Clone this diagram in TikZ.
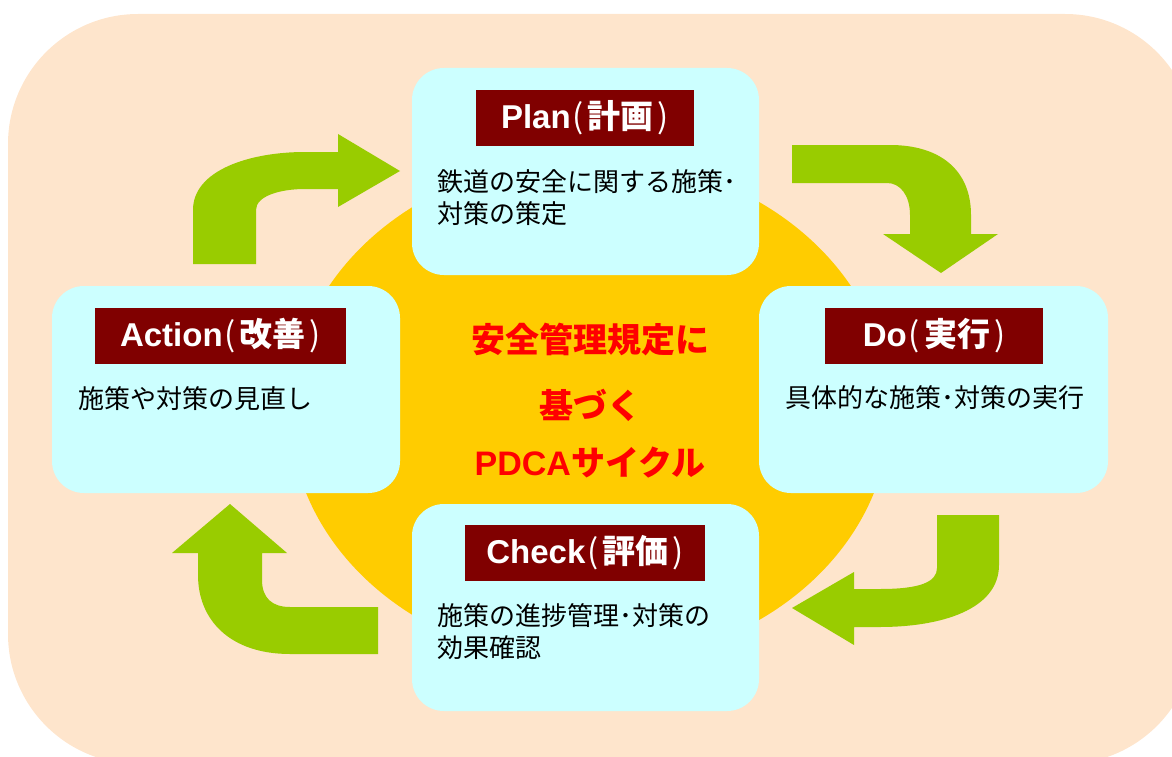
\documentclass[tikz,border=0pt]{standalone}
\usepackage{fontspec}
\setmainfont{Liberation Sans}
\newfontfamily\jp{Noto Sans CJK JP}
\definecolor{bgpeach}{HTML}{FEE5CC}
\definecolor{goldfill}{HTML}{FFCC00}
\definecolor{boxcyan}{HTML}{CCFFFF}
\definecolor{titlered}{HTML}{800000}
\definecolor{arrowgreen}{HTML}{99CC00}
\newcommand{\lpar}{\hspace{2pt}{\jp\mdseries (}\hspace{4pt}}
\newcommand{\rpar}{\hspace{4pt}{\jp\mdseries )}}
\tikzset{
  stagebox/.style={fill=boxcyan, rounded corners=32pt, minimum height=207pt, inner sep=0pt},
  titlebox/.style={fill=titlered, text=white, minimum height=56pt, inner sep=0pt,
    font=\fontsize{33}{36}\selectfont},
  bodytext/.style={anchor=north west, inner sep=0pt, align=left, text=black,
    font=\jp\fontsize{26}{32}\selectfont},
  centertext/.style={text=red, inner sep=0pt, font=\jp\bfseries\fontsize{34}{38}\selectfont},
  bigarrow/.style={fill=arrowgreen}
}
\begin{document}
\begin{tikzpicture}[x=1pt,y=-1pt]
\useasboundingbox (0,0) rectangle (1172,757);
\clip (0,0) rectangle (1172,757);
% background
\fill[bgpeach, rounded corners=130pt] (8,14) rectangle (1195,764);
% central ellipse
\fill[goldfill] (590,411) ellipse [x radius=300pt, y radius=253pt];
% arrows
\fill[bigarrow] (193,264) -- (193,210) .. controls (193,170) and (250,152) .. (305,152)
  -- (338,152) -- (338,134) -- (400,171) -- (338,207) -- (338,189) -- (305,189)
  .. controls (280,189) and (256,196) .. (256,210) -- (256,264) -- cycle;
\fill[bigarrow] (792,145) -- (890,145) .. controls (940,145) and (971,170) .. (971,215)
  -- (971,234) -- (998,234) -- (941,273) -- (883,234) -- (910,234) -- (910,215)
  .. controls (910,195) and (900,183) .. (887,183) -- (792,183) -- cycle;
\fill[bigarrow] (937,515) -- (999,515) -- (999,565) .. controls (999,610) and (940,627) .. (880,627)
  -- (854,627) -- (854,645) -- (792,608) -- (854,572) -- (854,589) -- (880,589)
  .. controls (920,589) and (937,582) .. (937,568) -- cycle;
\fill[bigarrow] (378,607) -- (378,654) -- (290,654) .. controls (230,654) and (198,620) .. (198,575)
  -- (198,553) -- (172,553) -- (230,504) -- (287,553) -- (262,553) -- (262,580)
  .. controls (262,598) and (272,607) .. (290,607) -- cycle;
% stage boxes
\node[stagebox, minimum width=347pt] (plan) at (585.5,171.5) {};
\node[stagebox, minimum width=349pt] (do) at (933.5,389.5) {};
\node[stagebox, minimum width=348pt] (action) at (226,389.5) {};
\node[stagebox, minimum width=347pt] (check) at (585.5,607.5) {};
% titles
\node[titlebox, minimum width=218pt] (plantitle) at (585,118) {\bfseries Plan\lpar{\jp\bfseries 計画}\rpar};
\node[titlebox, minimum width=218pt] (dotitle) at (934,336) {\bfseries Do\lpar{\jp\bfseries 実行}\rpar};
\node[titlebox, minimum width=251pt] (actiontitle) at (220.5,336) {\bfseries Action\lpar{\jp\bfseries 改善}\rpar};
\node[titlebox, minimum width=240pt] (checktitle) at (585,553) {\bfseries Check\lpar{\jp\bfseries 評価}\rpar};
% body texts
\node[bodytext] (planbody) at (437,169) {鉄道の安全に関する施策･\\対策の策定};
\node[bodytext] (dobody) at (785,385) {具体的な施策･対策の実行};
\node[bodytext] (actionbody) at (78,386) {施策や対策の見直し};
\node[bodytext] (checkbody) at (437,603) {施策の進捗管理･対策の\\効果確認};
% center texts
\node[centertext] (c1) at (590,340) {安全管理規定に};
\node[centertext] (c2) at (590,405) {基づく};
\node[centertext] (c3) at (590,463) {{\rmfamily\bfseries PDCA}サイクル};
\end{tikzpicture}
\end{document}
